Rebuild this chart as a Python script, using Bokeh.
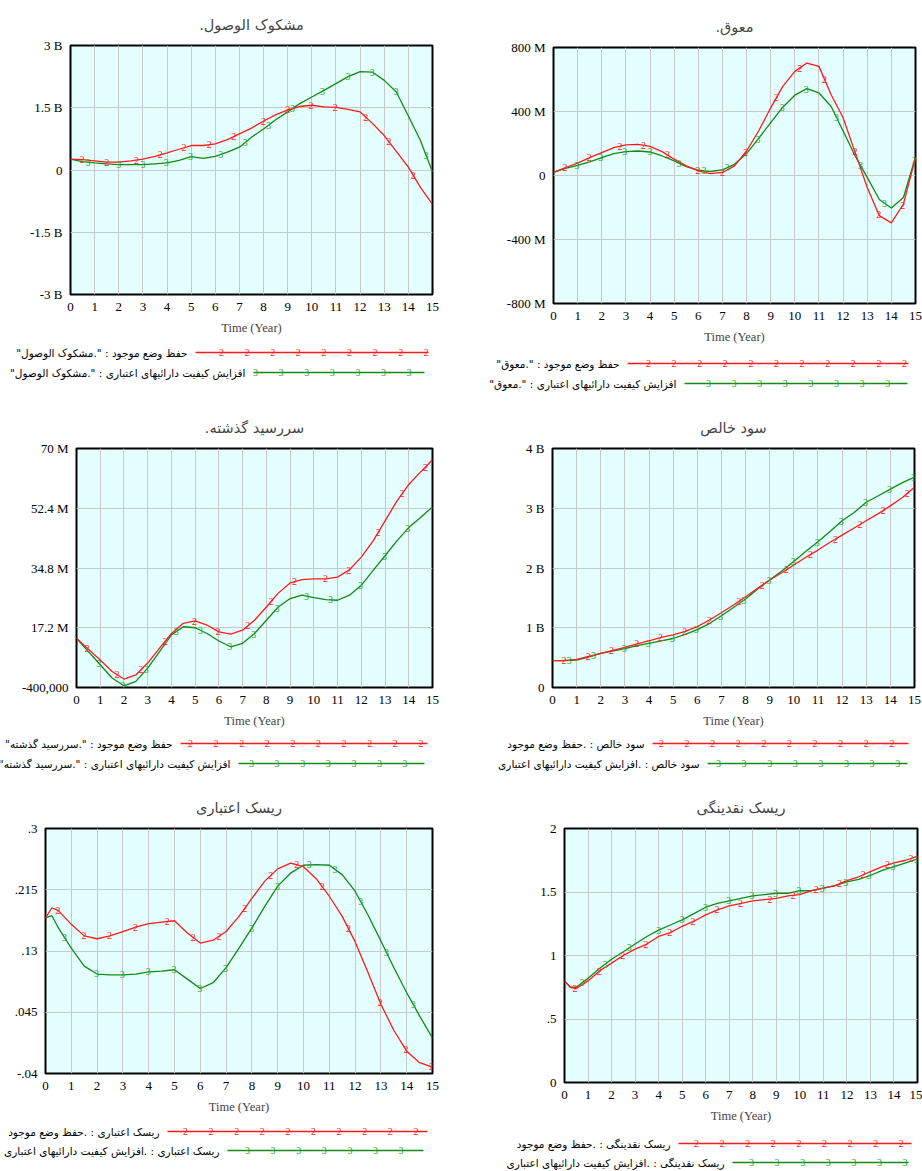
import numpy as np
from bokeh.plotting import figure
from bokeh.layouts import row, column
from bokeh.models import Range1d, FixedTicker, CustomJSTickFormatter
from bokeh.core.properties import value
from bokeh.embed import file_html
from bokeh.resources import INLINE

# ---------------- data ----------------
time_a = [0, 0.5, 1, 1.5, 2, 2.5, 3, 3.5, 4, 4.5, 5, 5.5, 6, 6.5, 7, 7.5,
          8, 8.5, 9, 9.5, 10, 10.5, 11, 11.5, 12, 12.5, 13, 13.5, 14, 14.5, 15]
time_b = [0, 0.25, 0.5, 1, 1.5, 2, 2.5, 3, 3.5, 4, 4.5, 5, 5.5, 6, 6.5, 7, 7.5,
          8, 8.5, 9, 9.5, 10, 10.5, 11, 11.5, 12, 12.5, 13, 13.5, 14, 14.5, 15]
x_ticks = [0, 1, 2, 3, 4, 5, 6, 7, 8, 9, 10, 11, 12, 13, 14, 15]

doubtful_keep = [0.26, 0.25, 0.22, 0.19, 0.19, 0.22, 0.26, 0.33, 0.41, 0.50, 0.59, 0.59, 0.63, 0.73, 0.87, 1.01,
                 1.18, 1.33, 1.45, 1.53, 1.56, 1.52, 1.51, 1.46, 1.40, 1.13, 0.83, 0.45, 0.07, -0.42, -0.83]
doubtful_improve = [0.26, 0.20, 0.17, 0.15, 0.13, 0.13, 0.13, 0.15, 0.17, 0.23, 0.32, 0.28, 0.33, 0.43, 0.55, 0.79,
                    0.99, 1.21, 1.40, 1.60, 1.76, 1.92, 2.08, 2.25, 2.37, 2.36, 2.16, 1.88, 1.30, 0.71, -0.05]
doubtful_ticks = [-3, -1.5, 0, 1.5, 3]
doubtful_labels = ["-3 B", "-1.5 B", "0", "1.5 B", "3 B"]

overdue_keep = [19, 50, 77, 112, 143, 174, 191, 195, 182, 149, 102, 60, 29, 12, 19, 60,
                153, 278, 423, 557, 651, 703, 682, 506, 361, 143, -75, -251, -296, -178, 112]
overdue_improve = [19, 44, 64, 85, 112, 137, 149, 153, 147, 122, 91, 56, 33, 25, 35, 70,
                   137, 232, 330, 427, 502, 543, 516, 433, 278, 122, -12, -150, -203, -137, 116]
overdue_ticks = [-800, -400, 0, 400, 800]
overdue_labels = ["-800 M", "-400 M", "0", "400 M", "800 M"]

pastdue_keep = [14.1, 10.9, 7.7, 4.3, 2.1, 3.3, 6.8, 11.2, 15.5, 18.5, 19.2, 18.0, 16.0, 15.3, 16.5, 19.4,
                23.3, 27.4, 30.4, 31.4, 31.6, 31.6, 32.1, 34.3, 38.0, 42.8, 48.7, 54.5, 59.4, 63.1, 66.7]
pastdue_improve = [14.1, 10.2, 6.3, 2.4, 0.1, 1.4, 5.3, 10.2, 15.1, 17.5, 17.2, 15.5, 13.3, 11.6, 12.6, 15.5,
                   19.4, 23.3, 25.8, 26.8, 26.1, 25.5, 25.3, 26.8, 29.7, 34.1, 38.4, 42.8, 46.7, 49.7, 52.8]
pastdue_ticks = [-0.4, 17.2, 34.8, 52.4, 70]
pastdue_labels = ["-400,000", "17.2 M", "34.8 M", "52.4 M", "70 M"]

profit_keep = [0.45, 0.45, 0.47, 0.52, 0.57, 0.62, 0.67, 0.73, 0.78, 0.84, 0.88, 0.94, 1.02, 1.13, 1.25, 1.38,
               1.52, 1.66, 1.80, 1.92, 2.05, 2.18, 2.30, 2.43, 2.55, 2.67, 2.79, 2.91, 3.04, 3.18, 3.35]
profit_improve = [0.45, 0.45, 0.46, 0.51, 0.57, 0.61, 0.65, 0.70, 0.74, 0.78, 0.82, 0.89, 0.97, 1.07, 1.20, 1.34,
                  1.48, 1.65, 1.80, 1.95, 2.11, 2.28, 2.44, 2.61, 2.79, 2.93, 3.10, 3.21, 3.32, 3.43, 3.52]
profit_ticks = [0, 1, 2, 3, 4]
profit_labels = ["0", "1 B", "2 B", "3 B", "4 B"]

credit_keep = [0.176, 0.190, 0.186, 0.167, 0.151, 0.147, 0.151, 0.157, 0.163, 0.168, 0.170, 0.172, 0.155, 0.141,
               0.145, 0.157, 0.178, 0.203, 0.227, 0.244, 0.252, 0.247, 0.230, 0.206, 0.178, 0.143, 0.100, 0.056,
               0.020, -0.009, -0.025, -0.031]
credit_improve = [0.176, 0.179, 0.162, 0.134, 0.109, 0.098, 0.097, 0.097, 0.098, 0.101, 0.102, 0.104, 0.091, 0.078,
                  0.086, 0.107, 0.134, 0.162, 0.192, 0.220, 0.238, 0.249, 0.250, 0.249, 0.236, 0.213, 0.180, 0.144,
                  0.107, 0.072, 0.040, 0.009]
credit_ticks = [-0.04, 0.045, 0.13, 0.215, 0.3]
credit_labels = ["-.04", ".045", ".13", ".215", ".3"]

liquid_keep = [0.80, 0.75, 0.74, 0.80, 0.88, 0.94, 1.00, 1.05, 1.09, 1.15, 1.18, 1.23, 1.27, 1.32, 1.36, 1.39,
               1.41, 1.43, 1.44, 1.45, 1.47, 1.48, 1.51, 1.53, 1.55, 1.59, 1.62, 1.66, 1.70, 1.73, 1.75, 1.78]
liquid_improve = [0.80, 0.75, 0.75, 0.82, 0.90, 0.97, 1.03, 1.09, 1.15, 1.20, 1.24, 1.28, 1.33, 1.38, 1.41, 1.43,
                  1.45, 1.47, 1.48, 1.49, 1.49, 1.51, 1.51, 1.53, 1.55, 1.58, 1.60, 1.63, 1.67, 1.70, 1.73, 1.76]
liquid_ticks = [0, 0.5, 1, 1.5, 2]
liquid_labels = ["0", ".5", "1", "1.5", "2"]

m1_red = [0.48, 1.5, 2.73, 3.72, 4.7, 5.75, 6.76, 8.0, 9.0, 9.97, 10.97, 12.23, 13.2, 14.2]
m1_green = [0.72, 2.0, 3.0, 3.97, 4.97, 6.23, 7.24, 8.2, 9.2, 10.44, 11.5, 12.5, 13.5, 14.73]
m2_red = [0.48, 1.48, 2.76, 3.73, 4.72, 5.99, 7.0, 7.96, 9.23, 10.2, 11.23, 12.49, 13.48, 14.47]
m2_green = [0.97, 1.96, 2.95, 4.0, 5.2, 6.24, 7.2, 8.47, 9.48, 10.47, 11.73, 12.72, 13.72, 14.96]
m3_red = [0.45, 1.71, 2.72, 3.74, 4.97, 5.96, 7.22, 8.2, 9.19, 10.49, 11.47, 12.71, 13.72, 14.7]
m3_green = [0.94, 1.97, 2.94, 4.2, 5.22, 6.46, 7.47, 8.46, 9.69, 10.7, 11.97, 12.98, 13.96]
m4_red = [0.48, 1.48, 2.44, 3.49, 4.48, 5.48, 6.49, 7.73, 8.69, 9.7, 10.69, 11.73, 12.74, 13.7, 14.7]
m4_green = [0.69, 1.7, 2.97, 3.97, 4.97, 5.96, 6.97, 7.93, 8.97, 9.98, 10.97, 11.96, 12.97, 13.96, 14.97]
m5_red = [0.48, 1.49, 2.48, 3.49, 4.72, 5.73, 6.72, 7.72, 8.73, 9.74, 10.73, 11.74, 12.97, 13.97, 14.96]
m5_green = [0.74, 1.98, 2.97, 3.98, 4.98, 5.98, 6.98, 7.98, 8.99, 10.22, 11.22, 12.22, 13.22, 14.25]
m6_red = [0.45, 1.48, 2.47, 3.46, 4.47, 5.46, 6.48, 7.48, 8.73, 9.72, 10.7, 11.69, 12.7, 13.72, 14.72]
m6_green = [0.74, 1.73, 2.75, 4.0, 5.0, 5.99, 6.98, 7.97, 8.97, 9.96, 10.95, 11.95, 12.94, 13.96, 14.96]

LRM = "\u200e"
RLM = "\u200f"
RUN_KEEP = "حفظ وضع موجود"
RUN_IMPROVE = "افزایش کیفیت دارائیهای اعتباری"

RED = "#ff1a1a"
GREEN = "#138a13"
GREEN_TXT = "#2aa52a"
BG = "#e4ffff"
GRID = "#c8c8c8"
SERIF = "Liberation Serif"
ARABIC = "DejaVu Sans"


def tick_formatter(ticks, labels):
    return CustomJSTickFormatter(args=dict(tv=ticks, tl=labels), code="""
        for (let i = 0; i < tv.length; i++) {
            if (Math.abs(tv[i] - tick) < 1e-9) { return tl[i]; }
        }
        return '';
    """)


def plot_panel(title, t, red, green, mred, mgreen, yticks, ylabels, g):
    width = g["left"] + g["fw"] + g["right"]
    height = g["top"] + g["fh"] + g["bottom"]
    p = figure(width=width, height=height, x_range=Range1d(0, 15),
               y_range=Range1d(yticks[0], yticks[-1]), output_backend="svg",
               toolbar_location=None, title=title, frame_align=False,
               min_border_left=g["left"], min_border_right=g["right"],
               min_border_top=g["top"], min_border_bottom=g["bottom"])
    p.title.align = "center"
    p.title.text_font = ARABIC
    p.title.text_font_size = "14.5px"
    p.title.text_font_style = "normal"
    p.title.standoff = 25
    p.background_fill_color = BG
    p.border_fill_color = "white"
    p.outline_line_color = "black"
    p.outline_line_width = 2
    xt = FixedTicker(ticks=x_ticks)
    yt = FixedTicker(ticks=yticks)
    p.xaxis.ticker = xt
    p.xgrid.ticker = xt
    p.yaxis.ticker = yt
    p.ygrid.ticker = yt
    p.yaxis.formatter = tick_formatter(yticks, ylabels)
    for ax in (p.xaxis[0], p.yaxis[0]):
        ax.axis_line_color = None
        ax.major_tick_line_color = None
        ax.minor_tick_line_color = None
        ax.major_tick_out = 0
        ax.major_tick_in = 0
        ax.minor_tick_out = 0
        ax.minor_tick_in = 0
        ax.major_label_text_font = SERIF
        ax.major_label_text_font_size = "13px"
        ax.major_label_text_color = "black"
    p.yaxis.major_label_standoff = 8
    p.xaxis.major_label_standoff = 8
    p.xaxis.axis_label = "Time (Year)"
    p.xaxis.axis_label_text_font = SERIF
    p.xaxis.axis_label_text_font_size = "12.5px"
    p.xaxis.axis_label_text_font_style = "normal"
    p.xaxis.axis_label_standoff = 7
    for gr in (p.xgrid[0], p.ygrid[0]):
        gr.grid_line_color = GRID
        gr.grid_line_width = 1
    p.line(t, green, color=GREEN, line_width=1.3)
    p.line(t, red, color=RED, line_width=1.3)
    p.text(x=mgreen, y=list(np.interp(mgreen, t, green)), text=["3"] * len(mgreen),
           text_color=GREEN_TXT, text_font=value(SERIF), text_font_size="10px",
           text_align="center", text_baseline="middle")
    p.text(x=mred, y=list(np.interp(mred, t, red)), text=["2"] * len(mred),
           text_color=RED, text_font=value(SERIF), text_font_size="10px",
           text_align="center", text_baseline="middle")
    return p


def legend_panel(width, height, rows):
    lf = figure(width=width, height=height, x_range=Range1d(0, width), y_range=Range1d(height, 0),
                output_backend="svg", toolbar_location=None, min_border=0, title=None,
                frame_align=False, x_axis_location=None, y_axis_location=None)
    lf.grid.visible = False
    lf.outline_line_color = None
    lf.background_fill_color = "white"
    lf.border_fill_color = "white"
    for (y, label, x0, x1, first, ch, lc, tc) in rows:
        lf.line([x0, x1], [y, y], color=lc, line_width=1.3)
        mx = list(np.arange(first, x1 + 2, 25.6))
        lf.text(x=mx, y=[y] * len(mx), text=[ch] * len(mx), text_color=tc,
                text_font=value(SERIF), text_font_size="10px", text_align="center",
                text_baseline="middle")
        lf.text(x=[x0 - 8], y=[y], text=[label], text_color="black",
                text_font=value(ARABIC), text_font_size="10.5px", text_align="right",
                text_baseline="middle")
    return lf


def quoted(var, run):
    return LRM + '"' + var + '."' + LRM + " : " + LRM + run


g1 = dict(left=70, fw=362, right=28, top=45, fh=249, bottom=46)
p1 = plot_panel("مشکوک الوصول." + RLM, time_a, doubtful_keep, doubtful_improve, m1_red, m1_green,
                doubtful_ticks, doubtful_labels, g1)
l1 = legend_panel(460, 58, [
    (12, quoted("مشکوک الوصول", RUN_KEEP), 195, 428, 221, "2", RED, RED),
    (32, quoted("مشکوک الوصول", RUN_IMPROVE), 253, 424, 255, "3", GREEN, GREEN_TXT),
])

g2 = dict(left=93, fw=362, right=7, top=47, fh=256, bottom=47)
p2 = plot_panel("معوق." + RLM, time_a, overdue_keep, overdue_improve, m2_red, m2_green,
                overdue_ticks, overdue_labels, g2)
l2 = legend_panel(462, 48, [
    (13, quoted("معوق", RUN_KEEP), 167, 448, 188, "2", RED, RED),
    (33, quoted("معوق", RUN_IMPROVE), 224, 447, 248, "3", GREEN, GREEN_TXT),
])

g3 = dict(left=76, fw=356, right=28, top=50, fh=239, bottom=43)
p3 = plot_panel("سررسید گذشته." + RLM, time_a, pastdue_keep, pastdue_improve, m3_red, m3_green,
                pastdue_ticks, pastdue_labels, g3)
l3 = legend_panel(460, 55, [
    (13, quoted("سررسید گذشته", RUN_KEEP), 180, 427, 190, "2", RED, RED),
    (33, quoted("سررسید گذشته", RUN_IMPROVE), 238, 424, 251, "3", GREEN, GREEN_TXT),
])

g4 = dict(left=92, fw=362, right=8, top=50, fh=239, bottom=43)
p4 = plot_panel("سود خالص", time_a, profit_keep, profit_improve, m4_red, m4_green,
                profit_ticks, profit_labels, g4)
l4 = legend_panel(462, 55, [
    (13, "سود خالص : ." + RUN_KEEP, 192, 448, 201, "2", RED, RED),
    (33, "سود خالص : ." + RUN_IMPROVE, 247, 447, 258, "3", GREEN, GREEN_TXT),
])

g5 = dict(left=45, fw=387, right=28, top=42, fh=246, bottom=43)
p5 = plot_panel("ریسک اعتباری", time_b, credit_keep, credit_improve, m5_red, m5_green,
                credit_ticks, credit_labels, g5)
l5 = legend_panel(460, 54, [
    (15, "ریسک اعتباری : ." + RUN_KEEP, 167, 427, 185, "2", RED, RED),
    (34, "ریسک اعتباری : ." + RUN_IMPROVE, 227, 423, 247, "3", GREEN, GREEN_TXT),
])

g6 = dict(left=104, fw=353, right=5, top=43, fh=254, bottom=44)
p6 = plot_panel("ریسک نقدینگی", time_b, liquid_keep, liquid_improve, m6_red, m6_green,
                liquid_ticks, liquid_labels, g6)
l6 = legend_panel(462, 44, [
    (17, "ریسک نقدینگی : ." + RUN_KEEP, 218, 451, 236, "2", RED, RED),
    (36, "ریسک نقدینگی : ." + RUN_IMPROVE, 272, 448, 291, "3", GREEN, GREEN_TXT),
])

layout = column(
    row(column(p1, l1), column(p2, l2)),
    row(column(p3, l3), column(p4, l4)),
    row(column(p5, l5), column(p6, l6)),
)

open("out.html", "w").write(file_html(layout, INLINE))
